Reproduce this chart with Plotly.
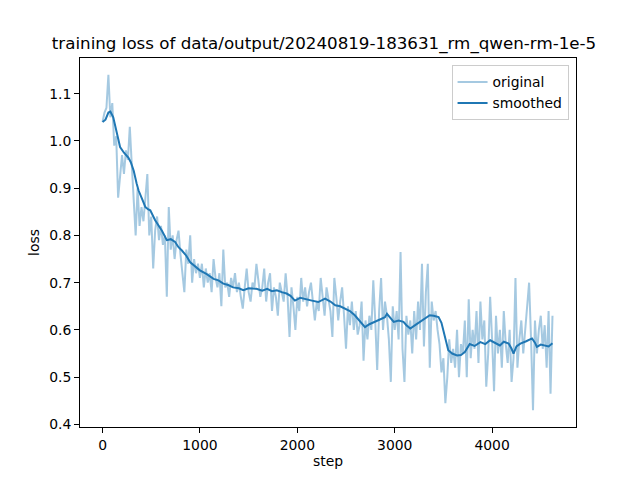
import plotly.graph_objs as go

# -- data
steps = list(range(0, 4640, 20))
loss = [
    1.04, 1.06, 1.07, 1.14, 1.05, 1.08, 0.99, 1.01, 0.88, 0.93,
    0.97, 0.93, 0.98, 0.96, 1.03, 0.95, 0.88, 0.80, 0.90, 0.82,
    0.86, 0.83, 0.88, 0.93, 0.80, 0.84, 0.73, 0.81, 0.84, 0.79,
    0.82, 0.78, 0.80, 0.67, 0.86, 0.77, 0.80, 0.75, 0.79, 0.81,
    0.76, 0.72, 0.68, 0.77, 0.74, 0.80, 0.70, 0.75, 0.72, 0.74,
    0.71, 0.74, 0.69, 0.73, 0.70, 0.72, 0.68, 0.75, 0.71, 0.69,
    0.72, 0.65, 0.77, 0.69, 0.70, 0.67, 0.71, 0.69, 0.72, 0.68,
    0.70, 0.67, 0.645, 0.69, 0.73, 0.68, 0.66, 0.70, 0.69, 0.74,
    0.71, 0.67, 0.69, 0.73, 0.66, 0.70, 0.72, 0.64, 0.69, 0.67,
    0.63, 0.70, 0.68, 0.66, 0.72, 0.67, 0.585, 0.69, 0.65, 0.60,
    0.67, 0.64, 0.71, 0.66, 0.69, 0.65, 0.68, 0.70, 0.66, 0.62,
    0.66, 0.64, 0.71, 0.67, 0.63, 0.69, 0.66, 0.64, 0.585, 0.71,
    0.67, 0.62, 0.66, 0.69, 0.63, 0.56, 0.65, 0.61, 0.66, 0.60,
    0.64, 0.59, 0.61, 0.66, 0.535, 0.62, 0.58, 0.63, 0.60, 0.705,
    0.62, 0.515, 0.64, 0.71, 0.60, 0.66, 0.63, 0.58, 0.49, 0.65,
    0.60, 0.64, 0.58, 0.765, 0.56, 0.49, 0.63, 0.59, 0.62, 0.55,
    0.64, 0.58, 0.66, 0.60, 0.74, 0.565, 0.68, 0.74, 0.52, 0.66,
    0.62, 0.64, 0.60, 0.57, 0.51, 0.54, 0.445, 0.50, 0.58, 0.53,
    0.56, 0.52, 0.60, 0.50, 0.57, 0.55, 0.62, 0.50, 0.665, 0.54,
    0.60, 0.56, 0.64, 0.53, 0.66, 0.58, 0.62, 0.48, 0.55, 0.67,
    0.58, 0.47, 0.63, 0.55, 0.60, 0.52, 0.64, 0.57, 0.53, 0.60,
    0.49, 0.54, 0.71, 0.52, 0.58, 0.62, 0.55, 0.60, 0.65, 0.70,
    0.58, 0.43, 0.62, 0.55, 0.60, 0.63, 0.56, 0.61, 0.52, 0.64,
    0.465, 0.63,
]

smooth_steps = [0, 30, 60, 80, 110, 130, 160, 180, 220, 265, 290, 320, 350, 370,
                410, 440, 470, 490, 540, 580, 610, 660, 700, 745, 780, 815, 860,
                900, 950, 1000, 1070, 1140, 1190, 1240, 1290, 1340, 1400, 1445,
                1500, 1580, 1640, 1690, 1740, 1790, 1840, 1890, 1930, 1975, 2030,
                2080, 2150, 2215, 2285, 2340, 2390, 2440, 2490, 2540, 2590, 2640,
                2695, 2740, 2800, 2850, 2900, 2920, 2960, 2990, 3040, 3090, 3120,
                3160, 3210, 3260, 3310, 3360, 3400, 3450, 3480, 3500, 3530, 3550,
                3590, 3640, 3680, 3720, 3770, 3820, 3880, 3930, 3980, 4030, 4080,
                4120, 4170, 4200, 4220, 4250, 4290, 4350, 4410, 4440, 4460, 4500,
                4540, 4580, 4620]
smooth_loss = [1.04, 1.045, 1.06, 1.062, 1.05, 1.03, 1.005, 0.987, 0.975, 0.965,
               0.955, 0.937, 0.91, 0.895, 0.875, 0.86, 0.855, 0.853, 0.832, 0.82,
               0.81, 0.79, 0.792, 0.786, 0.775, 0.768, 0.757, 0.743, 0.735,
               0.726, 0.718, 0.708, 0.705, 0.698, 0.695, 0.69, 0.688, 0.684,
               0.688, 0.687, 0.683, 0.687, 0.682, 0.684, 0.68, 0.677, 0.672,
               0.662, 0.668, 0.666, 0.662, 0.659, 0.666, 0.66, 0.652, 0.65, 0.645,
               0.64, 0.631, 0.62, 0.606, 0.612, 0.617, 0.622, 0.627, 0.634, 0.625,
               0.617, 0.62, 0.617, 0.61, 0.603, 0.61, 0.617, 0.624, 0.631, 0.63,
               0.627, 0.615, 0.60, 0.575, 0.557, 0.55, 0.546, 0.547, 0.553, 0.57,
               0.566, 0.574, 0.57, 0.578, 0.572, 0.567, 0.575, 0.571, 0.56, 0.55,
               0.565, 0.571, 0.576, 0.582, 0.573, 0.564, 0.569, 0.567, 0.565,
               0.572]

x_ticks = [0, 1000, 2000, 3000, 4000]
y_ticks = [0.4, 0.5, 0.6, 0.7, 0.8, 0.9, 1.0, 1.1]

fig = go.Figure()
fig.add_trace(go.Scatter(x=steps, y=loss, mode='lines', name='original',
                         line=dict(color='rgba(31,119,180,0.4)', width=2)))
fig.add_trace(go.Scatter(x=smooth_steps, y=smooth_loss, mode='lines', name='smoothed',
                         line=dict(color='#1f77b4', width=2)))

axis_style = dict(showline=True, linecolor='black', linewidth=1, mirror=True,
                  ticks='outside', ticklen=5, tickcolor='black', showgrid=False,
                  zeroline=False, tickfont=dict(size=13.9, color='black'))

# page body has an 8px margin, so the figure is a bit smaller than the window
fig.update_layout(
    width=632, height=472,
    margin=dict(l=72, r=64, t=50, b=53, pad=0),
    paper_bgcolor='white', plot_bgcolor='white',
    font=dict(family='DejaVu Sans', color='black'),
    title=dict(text='training loss of data/output/20240819-183631_rm_qwen-rm-1e-5',
               x=0.5, xanchor='center', y=0.926, yanchor='middle',
               font=dict(size=16.7, color='black')),
    xaxis=dict(range=[-231.5, 4861.5], tickvals=x_ticks,
               title=dict(text='step', font=dict(size=13.9), standoff=4), **axis_style),
    yaxis=dict(range=[0.3945, 1.1755], tickvals=y_ticks, tickformat='.1f',
               title=dict(text='loss', font=dict(size=13.9), standoff=6), **axis_style),
    legend=dict(x=0.985, y=0.98, xanchor='right', yanchor='top',
                bordercolor='#cccccc', borderwidth=1, bgcolor='rgba(255,255,255,0.8)',
                font=dict(size=13.9)),
    showlegend=True,
)

fig.write_html("out.html")
